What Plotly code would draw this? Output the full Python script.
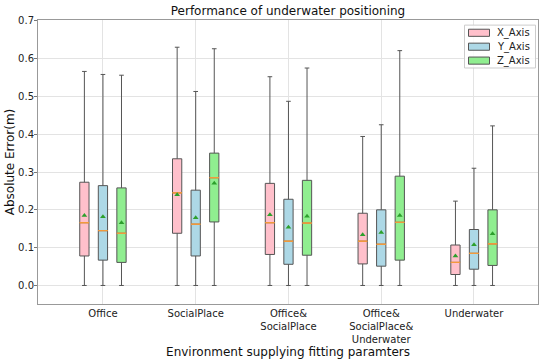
import plotly.graph_objects as go

categories = ["Office", "SocialPlace", "Office&<br>SocialPlace",
              "Office&<br>SocialPlace&<br>Underwater", "Underwater"]
series_names = ["X_Axis", "Y_Axis", "Z_Axis"]

# X axis error stats per category
x_q1 = [0.078, 0.138, 0.082, 0.057, 0.029]
x_med = [0.166, 0.245, 0.166, 0.117, 0.061]
x_q3 = [0.273, 0.335, 0.270, 0.191, 0.107]
x_mean = [0.185, 0.240, 0.187, 0.134, 0.078]
x_up = [0.566, 0.630, 0.552, 0.394, 0.223]
x_low = [0.0, 0.0, 0.0, 0.0, 0.0]

# Y axis error stats
y_q1 = [0.067, 0.078, 0.056, 0.051, 0.043]
y_med = [0.145, 0.162, 0.117, 0.109, 0.085]
y_q3 = [0.264, 0.252, 0.228, 0.200, 0.148]
y_mean = [0.182, 0.179, 0.154, 0.140, 0.108]
y_up = [0.558, 0.513, 0.487, 0.425, 0.310]
y_low = [0.0, 0.0, 0.0, 0.0, 0.0]

# Z axis error stats
z_q1 = [0.061, 0.168, 0.080, 0.067, 0.053]
z_med = [0.138, 0.285, 0.165, 0.167, 0.110]
z_q3 = [0.258, 0.350, 0.278, 0.289, 0.200]
z_mean = [0.166, 0.270, 0.183, 0.185, 0.137]
z_up = [0.556, 0.626, 0.575, 0.621, 0.422]
z_low = [0.0, 0.0, 0.0, 0.0, 0.0]

fills = ["#FFC0CB", "#ADD8E6", "#90EE90"]
offsets = [-0.2, 0.0, 0.2]
BW = 0.1

stats = [
    (x_q1, x_med, x_q3, x_mean, x_up, x_low),
    (y_q1, y_med, y_q3, y_mean, y_up, y_low),
    (z_q1, z_med, z_q3, z_mean, z_up, z_low),
]

fig = go.Figure()
for k, (q1, med, q3, mean, up, low) in enumerate(stats):
    xs = [i + offsets[k] for i in range(len(categories))]
    fig.add_trace(go.Box(
        x=xs, q1=q1, median=med, q3=q3, lowerfence=low, upperfence=up,
        width=BW, whiskerwidth=0.5, fillcolor=fills[k],
        line=dict(color="#555555", width=1), boxpoints=False,
        name=series_names[k], showlegend=False, hoverinfo="skip"))
    # median line (orange)
    fig.add_trace(go.Box(
        x=xs, q1=med, median=med, q3=med, lowerfence=med, upperfence=med,
        width=BW, whiskerwidth=0, fillcolor="rgba(0,0,0,0)",
        line=dict(color="#f39a3c", width=1), boxpoints=False,
        showlegend=False, hoverinfo="skip"))
    # mean marker
    fig.add_trace(go.Scatter(
        x=xs, y=mean, mode="markers",
        marker=dict(symbol="triangle-up", size=5, color="#2ca02c"),
        showlegend=False, hoverinfo="skip"))

# Manual matplotlib-like legend
shapes = [dict(type="rect", xref="paper", yref="paper",
               x0=0.853, x1=0.995, y0=0.831, y1=0.982,
               fillcolor="rgba(255,255,255,0.85)",
               line=dict(color="#cccccc", width=1), layer="above")]
annotations = []
rows = [0.955, 0.906, 0.857]
for k in range(3):
    shapes.append(dict(type="rect", xref="paper", yref="paper",
                       x0=0.861, x1=0.903, y0=rows[k] - 0.0125, y1=rows[k] + 0.0125,
                       fillcolor=fills[k], line=dict(color="#555555", width=1),
                       layer="above"))
    annotations.append(dict(xref="paper", yref="paper", x=0.913, y=rows[k],
                            xanchor="left", yanchor="middle", showarrow=False,
                            text=series_names[k],
                            font=dict(size=10, color="#222222")))

fig.update_layout(
    width=550, height=360,
    margin=dict(l=38, r=12, t=20, b=56),
    paper_bgcolor="white", plot_bgcolor="white",
    font=dict(family="DejaVu Sans", size=10, color="#222222"),
    boxmode="overlay",
    title=dict(text="Performance of underwater positioning",
               x=(38 + 538) / 2 / 550, xanchor="center", y=0.97, yanchor="middle",
               font=dict(size=12, color="#111111")),
    shapes=shapes, annotations=annotations,
    showlegend=False,
)
fig.update_xaxes(
    range=[-0.70, 4.69], tickmode="array",
    tickvals=list(range(len(categories))), ticktext=categories,
    showgrid=True, gridcolor="#e3e3e3", gridwidth=1, zeroline=False,
    showline=True, linecolor="#999999", linewidth=1, mirror=True,
    ticks="", tickfont=dict(size=10, color="#222222"),
    title=dict(text="Environment supplying fitting paramters",
               font=dict(size=12, color="#111111"), standoff=0),
    automargin=False,
)
fig.update_yaxes(
    range=[-0.049, 0.702], tickmode="array",
    tickvals=[0.0, 0.1, 0.2, 0.3, 0.4, 0.5, 0.6, 0.7],
    ticktext=["0.0", "0.1", "0.2", "0.3", "0.4", "0.5", "0.6", "0.7"],
    showgrid=True, gridcolor="#e3e3e3", gridwidth=1, zeroline=False,
    showline=True, linecolor="#999999", linewidth=1, mirror=True,
    ticks="outside", ticklen=3, tickcolor="#777777",
    ticklabelstandoff=-2,
    tickfont=dict(size=10, color="#222222"),
    title=dict(text="Absolute Error(m)", font=dict(size=12, color="#111111"),
               standoff=0),
    automargin=False,
)

fig.write_html("out.html", config={"displayModeBar": False},
               post_script="document.body.style.margin='0';document.body.style.overflow='hidden';")
